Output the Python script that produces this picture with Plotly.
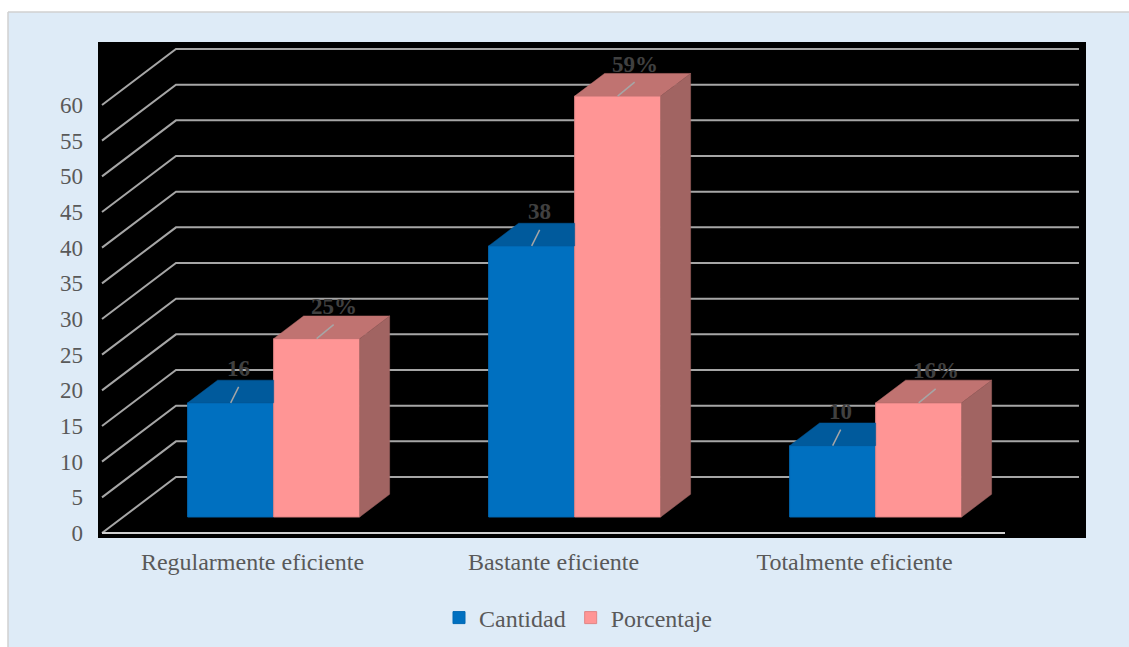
import plotly.graph_objects as go

# ---- data ----
categories = ["Regularmente eficiente", "Bastante eficiente", "Totalmente eficiente"]
cantidad = [16, 38, 10]
porcentaje = [25, 59, 16]
cantidad_labels = ["16", "38", "10"]
porcentaje_labels = ["25%", "59%", "16%"]
y_ticks = list(range(0, 61, 5))

# ---- pseudo-3D geometry (axis units) ----
DEPTH_X = 0.2458      # horizontal shift of the back wall
DEPTH_Y = 7.85        # vertical shift of the back wall
F_FRONT = 0.286       # depth fraction of the bar front faces
F_BACK = 0.691        # depth fraction of the bar back faces
BAR_W = 0.2857        # width of a single bar

FONT = "Liberation Serif, Times New Roman, serif"
GRID = "#A6A6A6"

colors = {
    "Cantidad": {"front": "#0070C0", "top": "#005A9C", "side": "#004C85", "edge": "#0068B3"},
    "Porcentaje": {"front": "#FF9595", "top": "#C07371", "side": "#A16462", "edge": "#E08585"},
}

ddx = (F_BACK - F_FRONT) * DEPTH_X
ddy = (F_BACK - F_FRONT) * DEPTH_Y
base_front = F_FRONT * DEPTH_Y
n = len(categories)
x_left_edge = -0.5
x_right_edge = n - 0.5

fig = go.Figure()

# front faces as real bars
series = [("Cantidad", cantidad, -BAR_W), ("Porcentaje", porcentaje, 0.0)]
for name, vals, off in series:
    c = colors[name]
    fig.add_trace(go.Bar(
        name=name,
        x=[i + F_FRONT * DEPTH_X for i in range(n)],
        y=vals,
        base=base_front,
        width=BAR_W,
        offset=off,
        marker=dict(color=c["front"], line=dict(color=c["edge"], width=1)),
        hoverinfo="skip",
    ))


def poly_trace(xs, ys, color):
    return go.Scatter(x=xs, y=ys, mode="lines", fill="toself", fillcolor=color,
                      line=dict(color=color, width=0.5), showlegend=False,
                      hoverinfo="skip")


# top face of the blue bars (the part behind the pink bars is hidden)
bx, by = [], []
for i, v in enumerate(cantidad):
    xr = i + F_FRONT * DEPTH_X
    xl = xr - BAR_W
    yt = v + base_front
    bx += [xl, xr, xr, xl + ddx, xl, None]
    by += [yt, yt, yt + ddy, yt + ddy, yt, None]
fig.add_trace(poly_trace(bx, by, colors["Cantidad"]["top"]))

# top and side faces of the pink bars
tx, ty, sx, sy = [], [], [], []
for i, v in enumerate(porcentaje):
    xl = i + F_FRONT * DEPTH_X
    xr = xl + BAR_W
    yt = v + base_front
    tx += [xl, xr, xr + ddx, xl + ddx, xl, None]
    ty += [yt, yt, yt + ddy, yt + ddy, yt, None]
    sx += [xr, xr, xr + ddx, xr + ddx, xr, None]
    sy += [base_front, yt, yt + ddy, base_front + ddy, base_front, None]
fig.add_trace(poly_trace(tx, ty, colors["Porcentaje"]["top"]))
fig.add_trace(poly_trace(sx, sy, colors["Porcentaje"]["side"]))

# data labels with short leader lines
lx, ly = [], []
annotations = []
leader = {"Cantidad": (8 / 301, 16 / 7.133, -0.5), "Porcentaje": (17 / 301, 14 / 7.133, 0.5)}
for name, vals, labels in [("Cantidad", cantidad, cantidad_labels),
                           ("Porcentaje", porcentaje, porcentaje_labels)]:
    ldx, ldy, side = leader[name]
    for i, v in enumerate(vals):
        xc = i + F_FRONT * DEPTH_X + side * BAR_W
        yt = v + base_front
        lx += [xc, xc + ldx, None]
        ly += [yt, yt + ldy, None]
        annotations.append(dict(
            x=xc + ldx, y=yt + ldy, xref="x", yref="y", text=f"<b>{labels[i]}</b>",
            showarrow=False, yanchor="middle", xanchor="center", yshift=18,
            font=dict(family=FONT, size=23, color="#404040"),
        ))
fig.add_trace(go.Scatter(x=lx, y=ly, mode="lines", line=dict(color=GRID, width=1.5),
                         showlegend=False, hoverinfo="skip"))

# back wall / side wall gridlines
shapes = []
for v in y_ticks:
    path = (f"M {x_left_edge},{v} L {x_left_edge + DEPTH_X},{v + DEPTH_Y} "
            f"L {x_right_edge + DEPTH_X},{v + DEPTH_Y}")
    shapes.append(dict(type="path", path=path, xref="x", yref="y",
                       line=dict(color=GRID, width=2), layer="below"))
# front edge of the floor
shapes.append(dict(type="line", xref="x", yref="y", x0=x_left_edge, x1=x_right_edge,
                   y0=0, y1=0, line=dict(color="#D0D0D0", width=2), layer="below"))

# outer frame: white page margin and thin border around the chart box
W, H = 1129, 647
ML, MR, MT, MB = 98, 43, 42, 109
pw, ph = W - ML - MR, H - MT - MB


def px(xp):
    return (xp - ML) / pw


def py(yp):
    return (H - MB - yp) / ph


shapes += [
    dict(type="rect", xref="paper", yref="paper", x0=px(0), x1=px(W), y0=py(12), y1=py(0),
         fillcolor="white", line=dict(width=0)),
    dict(type="rect", xref="paper", yref="paper", x0=px(0), x1=px(8), y0=py(H), y1=py(0),
         fillcolor="white", line=dict(width=0)),
    dict(type="line", xref="paper", yref="paper", x0=px(8), x1=px(W), y0=py(12), y1=py(12),
         line=dict(color="#D0D0D0", width=1.5)),
    dict(type="line", xref="paper", yref="paper", x0=px(8), x1=px(8), y0=py(12), y1=py(H),
         line=dict(color="#D0D0D0", width=1.5)),
]

k = (533 - 105) / 60.0  # px per value unit
fig.update_layout(
    width=W, height=H, autosize=False,
    margin=dict(l=ML, r=MR, t=MT, b=MB, autoexpand=False),
    paper_bgcolor="#DEEBF7",
    plot_bgcolor="black",
    barmode="overlay",
    shapes=shapes,
    annotations=annotations,
    showlegend=True,
    legend=dict(orientation="h", xref="container", yref="container",
                x=578 / W, xanchor="center", y=1 - 618 / H, yanchor="middle",
                font=dict(family=FONT, size=24, color="#595959"), bgcolor="rgba(0,0,0,0)",
                traceorder="normal"),
    xaxis=dict(range=[-0.5 - 4 / 301, -0.5 + (1086 - 102) / 301],
               tickvals=list(range(n)), ticktext=categories,
               showgrid=False, zeroline=False, showline=False, ticks="",
               ticklabelstandoff=7, automargin=False,
               tickfont=dict(family=FONT, size=24, color="#595959"), fixedrange=True),
    yaxis=dict(range=[(533 - 538) / k, (533 - 42) / k],
               tickvals=y_ticks, ticktext=[str(t) for t in y_ticks],
               showgrid=False, zeroline=False, showline=False, ticks="",
               ticklabelstandoff=14, automargin=False,
               tickfont=dict(family=FONT, size=23, color="#595959"), fixedrange=True),
)

fig.write_html("out.html")
